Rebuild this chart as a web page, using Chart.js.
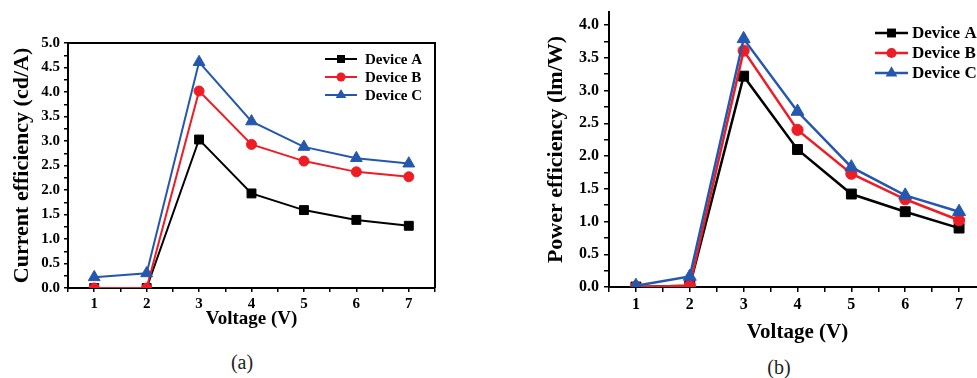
<!DOCTYPE html>
<html>
<head>
<meta charset="utf-8">
<title>Efficiency vs voltage</title>
<script src="https://cdn.jsdelivr.net/npm/chart.js@4.4.1/dist/chart.umd.min.js"></script>
<style>
    html, body { margin: 0; padding: 0; background: #fff; width: 977px; height: 378px; overflow: hidden; }
    canvas { position: absolute; top: 0; }
    #chartA { left: 0; }
    #chartB { left: 480px; }
    .caption {
        position: absolute;
        font-family: 'Liberation Serif', 'Times New Roman', serif;
        font-size: 20px;
        color: #222;
        transform: translate(-50%, -50%);
        line-height: 1;
    }
</style>
</head>
<body>
<canvas id="chartA" width="480" height="345"></canvas>
<canvas id="chartB" width="520" height="345"></canvas>
<div class="caption" style="left:242px; top:362px;">(a)</div>
<div class="caption" style="left:779px; top:367px;">(b)</div>
<script>
(function () {
    'use strict';

    // values
    var voltage = [1, 2, 3, 4, 5, 6, 7];
    var deviceNames = ['Device A', 'Device B', 'Device C'];

    var currentA = [0.00, 0.00, 3.03, 1.93, 1.59, 1.39, 1.27];
    var currentB = [0.00, 0.00, 4.02, 2.93, 2.59, 2.37, 2.27];
    var currentC = [0.22, 0.30, 4.61, 3.40, 2.88, 2.65, 2.54];

    var powerA = [0.00, 0.02, 3.22, 2.10, 1.42, 1.15, 0.90];
    var powerB = [0.00, 0.02, 3.61, 2.40, 1.73, 1.34, 1.02];
    var powerC = [0.02, 0.16, 3.79, 2.68, 1.83, 1.40, 1.15];

    var voltageTickLabels = ['1', '2', '3', '4', '5', '6', '7'];
    var currentTickLabels = ['0.0', '0.5', '1.0', '1.5', '2.0', '2.5', '3.0', '3.5', '4.0', '4.5', '5.0'];
    var powerTickLabels = ['0.0', '0.5', '1.0', '1.5', '2.0', '2.5', '3.0', '3.5', '4.0'];

    var serif = "'Liberation Serif', 'Times New Roman', serif";
    var seriesColors = ['#000000', '#ee1d25', '#2457ad'];
    var seriesMarkers = ['rect', 'circle', 'triangle'];

    function majorValues(labels) {
        return labels.map(function (t) { return parseFloat(t); });
    }

    // major ticks plus one minor tick half way between each pair
    function tickList(labels, upper) {
        var major = majorValues(labels);
        var all = major.slice();
        for (var i = 0; i < major.length; i++) {
            var step = i < major.length - 1 ? major[i + 1] - major[i] : major[i] - major[i - 1];
            var mid = major[i] + step / 2;
            if (mid <= upper + 1e-9) {
                all.push(mid);
            }
            if (i === 0 && major[0] - step / 2 >= 0.5 - 1e-9 && major[0] - step / 2 > 0) {
                all.push(major[0] - step / 2);
            }
        }
        all.sort(function (a, b) { return a - b; });
        return all;
    }

    function labelFor(labels) {
        var major = majorValues(labels);
        return function (value) {
            for (var i = 0; i < major.length; i++) {
                if (Math.abs(major[i] - value) < 1e-6) {
                    return labels[i];
                }
            }
            return '';
        };
    }

    function toPoints(values) {
        return voltage.map(function (v, i) { return { x: v, y: values[i] }; });
    }

    function drawMarker(ctx, style, x, y, r, color) {
        ctx.fillStyle = color;
        ctx.beginPath();
        if (style === 'rect') {
            var s = r * Math.SQRT1_2;
            ctx.rect(x - s, y - s, 2 * s, 2 * s);
        } else if (style === 'triangle') {
            ctx.moveTo(x, y - r);
            ctx.lineTo(x + r * Math.sin(2 * Math.PI / 3), y - r * Math.cos(2 * Math.PI / 3));
            ctx.lineTo(x + r * Math.sin(4 * Math.PI / 3), y - r * Math.cos(4 * Math.PI / 3));
            ctx.closePath();
        } else {
            ctx.arc(x, y, r, 0, Math.PI * 2);
        }
        ctx.fill();
    }

    var framePlugin = {
        id: 'plotFrame',
        afterDraw: function (chart, args, opts) {
            if (!opts.display) {
                return;
            }
            var a = chart.chartArea;
            var ctx = chart.ctx;
            ctx.save();
            ctx.strokeStyle = '#000';
            ctx.lineWidth = opts.width;
            ctx.beginPath();
            ctx.moveTo(a.left, a.top);
            ctx.lineTo(a.right, a.top);
            ctx.lineTo(a.right, a.bottom);
            ctx.stroke();
            ctx.restore();
        }
    };

    var seriesLegendPlugin = {
        id: 'seriesLegend',
        afterDraw: function (chart, args, opts) {
            var ctx = chart.ctx;
            ctx.save();
            ctx.font = 'bold ' + opts.fontSize + 'px ' + serif;
            ctx.textBaseline = 'middle';
            ctx.textAlign = 'left';
            chart.data.datasets.forEach(function (ds, i) {
                var y = opts.top + i * opts.rowGap;
                var x = opts.left;
                ctx.strokeStyle = ds.borderColor;
                ctx.lineWidth = ds.borderWidth;
                ctx.beginPath();
                ctx.moveTo(x, y);
                ctx.lineTo(x + opts.lineLength, y);
                ctx.stroke();
                drawMarker(ctx, ds.pointStyle, x + opts.lineLength / 2, y, ds.pointRadius * opts.markerScale, ds.borderColor);
                ctx.fillStyle = '#000';
                ctx.fillText(ds.label, x + opts.lineLength + opts.textGap, y + 1);
            });
            ctx.restore();
        }
    };

    function buildDatasets(seriesList, radii, lineWidth) {
        return seriesList.map(function (values, i) {
            return {
                label: deviceNames[i],
                data: toPoints(values),
                borderColor: seriesColors[i],
                backgroundColor: seriesColors[i],
                pointBackgroundColor: seriesColors[i],
                pointBorderColor: seriesColors[i],
                pointBorderWidth: 1,
                pointStyle: seriesMarkers[i],
                pointRadius: radii[i],
                borderWidth: lineWidth,
                tension: 0,
                fill: false,
                order: seriesList.length - 1 - i
            };
        });
    }

    function makeChart(canvasId, setup) {
        var xTicks = tickList(voltageTickLabels, setup.xMax);
        var yTicks = tickList(setup.yLabels, setup.yMax);

        return new Chart(document.getElementById(canvasId), {
            type: 'line',
            data: { datasets: buildDatasets(setup.series, setup.radii, setup.lineWidth) },
            options: {
                responsive: false,
                animation: false,
                events: [],
                layout: { padding: setup.padding },
                plugins: {
                    legend: { display: false },
                    tooltip: { enabled: false },
                    plotFrame: { display: setup.frame, width: 2 },
                    seriesLegend: setup.legend
                },
                scales: {
                    x: {
                        type: 'linear',
                        min: 0.5,
                        max: setup.xMax,
                        afterBuildTicks: function (scale) {
                            scale.ticks = xTicks.map(function (v) { return { value: v }; });
                        },
                        afterFit: function (scale) {
                            scale.height = setup.xHeight;
                            scale.paddingLeft = 0;
                            scale.paddingRight = 0;
                        },
                        ticks: {
                            autoSkip: false,
                            maxRotation: 0,
                            padding: setup.xTickPad,
                            color: '#000',
                            font: { family: serif, size: setup.tickSize, weight: 'bold' },
                            callback: labelFor(voltageTickLabels)
                        },
                        grid: { drawOnChartArea: false, drawTicks: true, tickLength: setup.tickLength, color: '#000', lineWidth: 1.5 },
                        border: { display: true, color: '#000', width: 2 },
                        title: {
                            display: true,
                            text: 'Voltage (V)',
                            color: '#000',
                            padding: 0,
                            font: { family: serif, size: setup.xTitleSize, weight: 'bold' }
                        }
                    },
                    y: {
                        type: 'linear',
                        min: 0,
                        max: setup.yMax,
                        afterBuildTicks: function (scale) {
                            scale.ticks = yTicks.map(function (v) { return { value: v }; });
                        },
                        afterFit: function (scale) {
                            scale.width = setup.yWidth;
                            scale.paddingTop = 0;
                            scale.paddingBottom = 0;
                        },
                        ticks: {
                            autoSkip: false,
                            padding: setup.yTickPad,
                            color: '#000',
                            font: { family: serif, size: setup.tickSize, weight: 'bold' },
                            callback: labelFor(setup.yLabels)
                        },
                        grid: { drawOnChartArea: false, drawTicks: true, tickLength: setup.tickLength, color: '#000', lineWidth: 1.5 },
                        border: { display: true, color: '#000', width: 2 },
                        title: {
                            display: true,
                            text: setup.yTitle,
                            color: '#000',
                            padding: 0,
                            font: { family: serif, size: 22, weight: 'bold' }
                        }
                    }
                }
            },
            plugins: [framePlugin, seriesLegendPlugin]
        });
    }

    // (a) current efficiency
    makeChart('chartA', {
        series: [currentA, currentB, currentC],
        radii: [6.3, 5, 6.8],
        lineWidth: 2,
        yLabels: currentTickLabels,
        yMax: 5,
        xMax: 7.5,
        yTitle: 'Current efficiency (cd/A)',
        padding: { left: 9, top: 43, right: 45, bottom: 15 },
        yWidth: 59,
        xHeight: 42,
        tickLength: 4,
        xTickPad: 3,
        yTickPad: 4,
        tickSize: 15,
        xTitleSize: 19,
        frame: true,
        legend: { left: 325, top: 59, rowGap: 18, lineLength: 32, textGap: 8, fontSize: 15, markerScale: 0.9 }
    });

    // (b) power efficiency
    makeChart('chartB', {
        series: [powerA, powerB, powerC],
        radii: [7, 5.6, 7.5],
        lineWidth: 2.5,
        yLabels: powerTickLabels,
        yMax: 4.2,
        xMax: 7.5,
        yTitle: 'Power efficiency (lm/W)',
        padding: { left: 63, top: 12, right: 14, bottom: 0 },
        yWidth: 66,
        xHeight: 58,
        tickLength: 5,
        xTickPad: 3,
        yTickPad: 5,
        tickSize: 16,
        xTitleSize: 21,
        frame: false,
        legend: { left: 395, top: 33, rowGap: 20, lineLength: 33, textGap: 4, fontSize: 17, markerScale: 0.9 }
    });
})();
</script>
</body>
</html>
